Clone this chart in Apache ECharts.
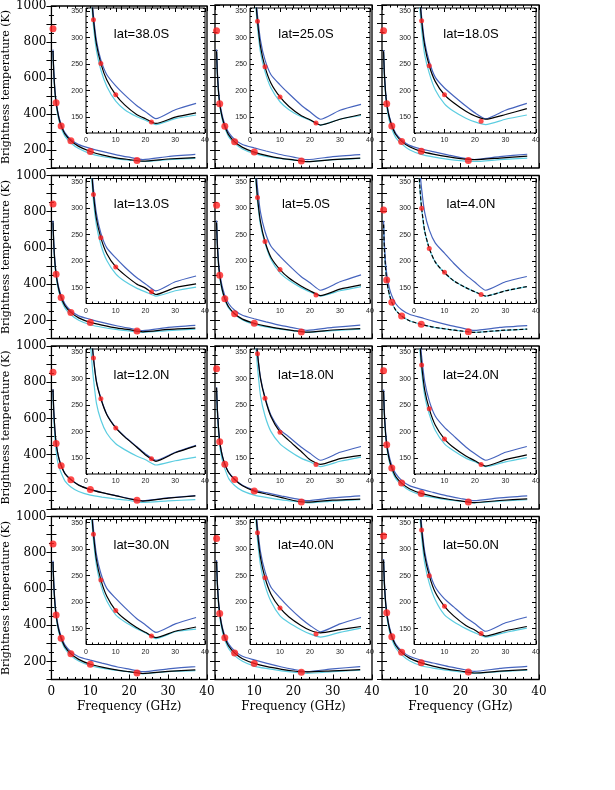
<!DOCTYPE html>
<html>
<head>
<meta charset="utf-8">
<script src="https://cdn.jsdelivr.net/npm/echarts@6/dist/echarts.min.js"></script>
<style>
html, body { margin: 0; padding: 0; background: #fff; }
#chart { width: 615px; height: 790px; }
</style>
</head>
<body>
<div id="chart"></div>
<script>
// frequency grid (GHz) shared by all model curves
const freq = [0.4, 0.6, 0.9, 1.2, 1.6, 2.0, 2.5, 3.5, 5, 7, 10, 13, 17, 20, 23.5, 30, 37];
// frequencies of the measured points (red dots)
const dotFreq = [0.4, 1.2, 2.5, 5, 10, 22];

const lats = ["lat=38.0S", "lat=25.0S", "lat=18.0S", "lat=13.0S", "lat=5.0S", "lat=4.0N",
  "lat=12.0N", "lat=18.0N", "lat=24.0N", "lat=30.0N", "lat=40.0N", "lat=50.0N"];

// lat=38.0S
const blue38S = [758, 640, 535, 472, 418, 378, 342, 295, 258, 230, 209, 192, 172, 160, 147, 164, 176];
const black38S = [750, 630, 525, 463, 410, 370, 334, 288, 251, 220, 192, 173, 155, 147, 138, 150, 158];
const cyan38S = [745, 622, 515, 452, 398, 358, 322, 276, 239, 208, 180, 164, 151, 144, 136, 147, 154];
const dots38S = [873, 463, 334, 251, 192, 141];
// lat=25.0S
const blue25S = [755, 635, 530, 467, 415, 377, 342, 295, 258, 230, 211, 194, 173, 160, 146, 163, 174];
const black25S = [745, 622, 518, 455, 403, 366, 331, 283, 245, 214, 188, 170, 153, 145, 135, 146, 155];
const cyan25S = [740, 615, 510, 446, 393, 355, 320, 272, 236, 205, 179, 164, 151, 144, 135, 146, 153];
const dots25S = [858, 455, 331, 245, 188, 139];
// lat=18.0S
const blue18S = [752, 630, 526, 463, 412, 375, 340, 292, 255, 225, 205, 190, 171, 158, 147, 163, 176];
const black18S = [745, 622, 518, 455, 404, 368, 332, 285, 247, 217, 192, 177, 161, 152, 146, 155, 166];
const cyan18S = [738, 612, 505, 441, 388, 350, 315, 268, 233, 201, 175, 161, 148, 141, 136, 146, 154];
const dots18S = [858, 455, 332, 247, 192, 142];
// lat=13.0S
const blue13S = [750, 628, 525, 463, 410, 372, 337, 290, 253, 225, 206, 189, 169, 157, 144, 161, 172];
const black13S = [742, 620, 516, 455, 400, 362, 326, 280, 244, 214, 189, 174, 157, 149, 137, 150, 157];
const cyan13S = [738, 612, 505, 442, 388, 350, 314, 268, 231, 201, 176, 162, 149, 142, 134, 144, 151];
const dots13S = [843, 455, 326, 244, 189, 142];
// lat=5.0S
const blue5S = [752, 630, 526, 464, 412, 374, 338, 292, 256, 228, 209, 192, 171, 159, 145, 161, 174];
const black5S = [740, 615, 510, 449, 395, 356, 320, 274, 237, 207, 184, 168, 153, 144, 135, 147, 155];
const cyan5S = [736, 610, 503, 440, 386, 348, 313, 268, 234, 203, 178, 164, 150, 142, 134, 144, 152];
const dots5S = [836, 449, 320, 237, 184, 136];
// lat=4.0N
const blue4N = [750, 628, 522, 458, 406, 368, 336, 292, 259, 234, 215, 196, 174, 160, 145, 161, 171];
const black4N = [730, 598, 490, 423, 370, 333, 300, 257, 224, 198, 178, 163, 150, 142, 134, 144, 152];
const cyan4N = [728, 596, 488, 421, 369, 332, 299, 256, 224, 198, 178, 163, 150, 142, 134, 144, 152];
const dots4N = [810, 423, 300, 224, 179, 137];
// lat=12.0N
const blue12N = [762, 642, 535, 466, 412, 374, 341, 296, 263, 233, 208, 191, 172, 158, 146, 161, 174];
const black12N = [760, 640, 533, 464, 410, 372, 339, 294, 262, 232, 207, 190, 171, 156, 144, 160, 173];
const cyan12N = [745, 610, 490, 420, 362, 330, 300, 254, 222, 197, 177, 166, 154, 147, 137, 145, 152];
const dots12N = [855, 462, 339, 262, 207, 149];
// lat=18.0N
const blue18N = [772, 652, 547, 474, 422, 384, 349, 302, 265, 231, 204, 190, 171, 159, 146, 161, 172];
const black18N = [770, 650, 545, 472, 420, 382, 347, 300, 263, 228, 199, 183, 163, 147, 138, 149, 155];
const cyan18N = [750, 625, 518, 450, 396, 357, 322, 268, 230, 200, 177, 164, 150, 143, 134, 144, 152];
const dots18N = [874, 472, 347, 263, 199, 138];
// lat=24.0N
const blue24N = [760, 638, 533, 468, 415, 377, 342, 295, 258, 229, 208, 192, 171, 158, 146, 161, 172];
const black24N = [750, 625, 520, 455, 400, 362, 326, 279, 243, 212, 186, 170, 154, 145, 135, 147, 156];
const cyan24N = [742, 615, 508, 443, 388, 350, 314, 268, 233, 202, 177, 164, 150, 143, 134, 143, 151];
const dots24N = [863, 455, 326, 243, 186, 138];
// lat=30.0N
const blue30N = [756, 634, 530, 466, 412, 374, 338, 290, 254, 226, 207, 190, 169, 157, 143, 159, 171];
const black30N = [748, 624, 518, 456, 400, 363, 328, 280, 242, 211, 184, 168, 152, 143, 133, 145, 153];
const cyan30N = [742, 616, 510, 446, 391, 352, 317, 270, 232, 202, 176, 163, 150, 142, 131, 144, 149];
const dots30N = [848, 456, 328, 242, 184, 136];
// lat=40.0N
const blue40N = [760, 640, 535, 473, 417, 378, 342, 295, 258, 228, 208, 190, 169, 156, 144, 159, 171];
const black40N = [752, 630, 525, 465, 408, 368, 331, 284, 246, 215, 189, 172, 156, 147, 142, 148, 154];
const cyan40N = [745, 620, 512, 450, 394, 354, 318, 270, 232, 201, 174, 161, 148, 140, 134, 143, 151];
const dots40N = [878, 465, 331, 246, 189, 140];
// lat=50.0N
const blue50N = [765, 643, 538, 475, 420, 381, 345, 296, 258, 228, 206, 191, 171, 159, 145, 161, 172];
const black50N = [758, 635, 530, 468, 412, 372, 336, 288, 250, 218, 192, 174, 156, 147, 136, 146, 154];
const cyan50N = [748, 623, 516, 452, 397, 358, 322, 274, 236, 204, 176, 163, 150, 142, 134, 143, 151];
const dots50N = [893, 468, 336, 250, 192, 141];

const mainXTicks = [0, 10, 20, 30, 40];
const mainYLabels = [200, 400, 600, 800, 1000];
const insetYLabels = [150, 200, 250, 300, 350];

const panels = [
  { blue: blue38S, black: black38S, cyan: cyan38S, dots: dots38S },
  { blue: blue25S, black: black25S, cyan: cyan25S, dots: dots25S },
  { blue: blue18S, black: black18S, cyan: cyan18S, dots: dots18S },
  { blue: blue13S, black: black13S, cyan: cyan13S, dots: dots13S },
  { blue: blue5S, black: black5S, cyan: cyan5S, dots: dots5S },
  { blue: blue4N, black: black4N, cyan: cyan4N, dots: dots4N, dashed: true },
  { blue: blue12N, black: black12N, cyan: cyan12N, dots: dots12N },
  { blue: blue18N, black: black18N, cyan: cyan18N, dots: dots18N },
  { blue: blue24N, black: black24N, cyan: cyan24N, dots: dots24N },
  { blue: blue30N, black: black30N, cyan: cyan30N, dots: dots30N },
  { blue: blue40N, black: black40N, cyan: cyan40N, dots: dots40N },
  { blue: blue50N, black: black50N, cyan: cyan50N, dots: dots50N }
];

// layout
const colLeft = [51, 215, 382];
const colWidth = [156, 157, 157];
const rowTop = [5, 175.5, 346, 516.5];
const rowHeight = 163;
const insetDx = [35, 35, 32];
const insetWidth = [119, 120, 122];

const BLUE = "#4664be";
const CYAN = "#5ccde0";
const RED = "#ff1f1f";
const serif = "DejaVu Serif";
const sans = "Liberation Sans";

const grid = [], xAxis = [], yAxis = [], series = [], graphic = [];

function tick(len) {
  return { show: true, inside: true, length: len, lineStyle: { color: "#000", width: 1 } };
}
function minor(split, len) {
  return { show: true, splitNumber: split, length: len, lineStyle: { color: "#000", width: 1 } };
}

panels.forEach((p, i) => {
  const r = Math.floor(i / 3), c = i % 3;
  const L = colLeft[c], T = rowTop[r];

  // ---- main plot ----
  const gm = grid.length;
  grid.push({ left: L, top: T, width: colWidth[c], height: rowHeight, show: true,
    borderColor: "#000", borderWidth: 1.3, backgroundColor: "transparent", z: 0 });
  const xm = xAxis.length;
  xAxis.push({
    type: "value", gridIndex: gm, position: "bottom", min: 0, max: 40, interval: 10,
    axisLine: { show: false }, splitLine: { show: false },
    axisTick: tick(5), minorTick: minor(5, 2.5),
    axisLabel: { show: r === 3, margin: 6, color: "#000", fontFamily: serif, fontSize: 12,
      formatter: v => (c > 0 && v === 0) ? "" : (mainXTicks.includes(v) ? String(v) : "") },
    name: r === 3 ? "Frequency (GHz)" : "", nameLocation: "middle", nameGap: 21,
    nameTextStyle: { color: "#000", fontFamily: serif, fontSize: 12 }
  });
  xAxis.push({
    type: "value", gridIndex: gm, position: "top", min: 0, max: 40, interval: 10,
    axisLine: { show: false }, splitLine: { show: false },
    axisTick: tick(5), minorTick: minor(5, 2.5), axisLabel: { show: false }
  });
  const ym = yAxis.length;
  yAxis.push({
    type: "value", gridIndex: gm, position: "left", min: 100, max: 1000, interval: 100,
    axisLine: { show: false }, splitLine: { show: false },
    axisTick: tick(5), minorTick: minor(2, 2.5),
    axisLabel: { show: c === 0, margin: 5, color: "#000", fontFamily: serif, fontSize: 12,
      formatter: v => mainYLabels.includes(v) ? String(v) : "" },
    name: c === 0 ? "Brightness temperature (K)" : "", nameLocation: "middle", nameGap: 30,
    nameRotate: 90,
    nameTextStyle: { color: "#000", fontFamily: serif, fontSize: 11 }
  });
  yAxis.push({
    type: "value", gridIndex: gm, position: "right", min: 100, max: 1000, interval: 100,
    axisLine: { show: false }, splitLine: { show: false },
    axisTick: tick(5), minorTick: minor(2, 2.5), axisLabel: { show: false }
  });

  // ---- inset ----
  const IL = L + insetDx[c], IT = T + 3;
  const gi = grid.length;
  grid.push({ left: IL, top: IT, width: insetWidth[c], height: 125, show: true,
    borderColor: "#000", borderWidth: 1, backgroundColor: "#fff", z: 10 });
  const xi = xAxis.length;
  xAxis.push({
    type: "value", gridIndex: gi, position: "bottom", min: 0, max: 40, interval: 10, z: 11,
    axisLine: { show: false }, splitLine: { show: false },
    axisTick: tick(4), minorTick: minor(5, 2),
    axisLabel: { show: true, margin: 4, color: "#222", fontFamily: sans, fontSize: 7 }
  });
  xAxis.push({
    type: "value", gridIndex: gi, position: "top", min: 0, max: 40, interval: 10, z: 11,
    axisLine: { show: false }, splitLine: { show: false },
    axisTick: tick(4), minorTick: minor(5, 2), axisLabel: { show: false }
  });
  const yi = yAxis.length;
  ["left", "right"].forEach(pos => {
    yAxis.push({
      type: "value", gridIndex: gi, position: pos, min: 120, max: 356, interval: 10, z: 11,
      axisLine: { show: false }, splitLine: { show: false },
      axisTick: tick(2),
      axisLabel: { show: pos === "left", margin: 3, color: "#222", fontFamily: sans, fontSize: 7,
        formatter: v => insetYLabels.includes(v) ? String(v) : "" }
    });
    yAxis.push({
      type: "value", gridIndex: gi, position: pos, min: 120, max: 356, interval: 10, z: 11,
      axisLine: { show: false }, splitLine: { show: false },
      axisTick: Object.assign(tick(4), { customValues: insetYLabels }),
      axisLabel: { show: false }
    });
  });

  // ---- series ----
  const curves = [
    { d: p.cyan, color: CYAN, type: "solid" },
    { d: p.blue, color: BLUE, type: "solid" },
    { d: p.black, color: "#000", type: p.dashed ? [4, 2] : "solid" }
  ];
  [[xm, ym, 2], [xi, yi, 12]].forEach(([xa, ya, z]) => {
    curves.forEach(cv => {
      series.push({
        type: "line", xAxisIndex: xa, yAxisIndex: ya, z: z,
        data: freq.map((f, k) => [f, cv.d[k]]),
        symbol: "none", smooth: 0.2, clip: true, silent: true,
        lineStyle: { color: cv.color, width: 1.2, type: cv.type }
      });
    });
    series.push({
      type: "scatter", xAxisIndex: xa, yAxisIndex: ya, z: z + 1,
      data: dotFreq.map((f, k) => [f, p.dots[k]]),
      symbol: "circle", symbolSize: z === 2 ? 7 : 5, clip: true, silent: true,
      itemStyle: { color: RED }
    });
  });

  graphic.push({
    type: "text", z: 100, x: IL + insetWidth[c] / 2 - 4, y: T + 29,
    style: { text: lats[i], fill: "#000", font: "13px 'Liberation Sans'",
      textAlign: "center", textVerticalAlign: "middle" }
  });
});

const chart = echarts.init(document.getElementById("chart"), null, { renderer: "canvas" });
chart.setOption({
  animation: false,
  backgroundColor: "#fff",
  grid: grid,
  xAxis: xAxis,
  yAxis: yAxis,
  series: series,
  graphic: graphic
});
</script>
</body>
</html>
